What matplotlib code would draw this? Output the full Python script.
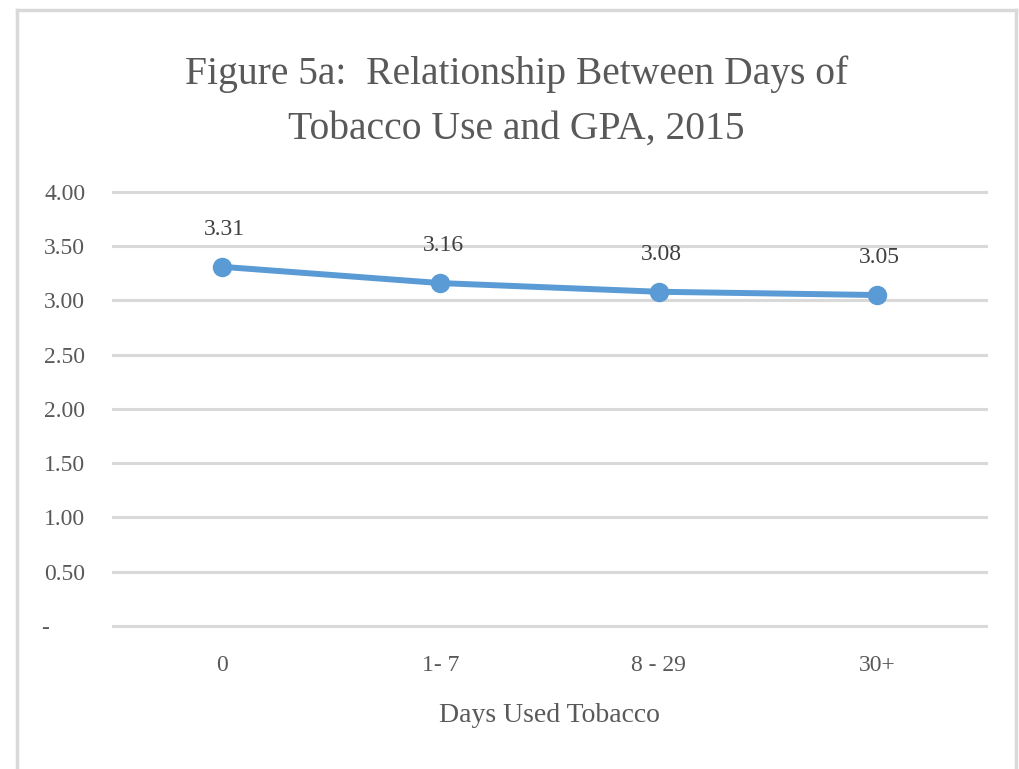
import matplotlib
matplotlib.use('Agg')
import matplotlib.pyplot as plt
from matplotlib.lines import Line2D

categories = ['0', '1- 7', '8 - 29', '30+']
gpa = [3.31, 3.16, 3.08, 3.05]
yticks = [0, 0.5, 1.0, 1.5, 2.0, 2.5, 3.0, 3.5, 4.0]
ytick_labels = ['-      ', '0.50', '1.00', '1.50', '2.00', '2.50', '3.00', '3.50', '4.00']

plt.rcParams['font.family'] = ['Liberation Serif', 'DejaVu Serif']

fig = plt.figure(figsize=(10.19, 7.69), dpi=100)
ax = fig.add_axes([0.1109, 0.186, 0.8567, 0.5644])

x = range(len(categories))
ax.plot(x, gpa, color='#5B9BD5', lw=4.3, marker='o', markersize=13, zorder=3)
for xi, v in zip(x, gpa):
    ax.annotate('%.2f' % v, (xi, v), xytext=(2, 27), textcoords='offset points',
                ha='center', va='center', fontsize=17, color='#404040')

ax.set_xlim(-0.5, len(categories) - 0.5)
ax.set_ylim(0, 4)
ax.set_xticks(list(x))
ax.set_xticklabels(categories, fontsize=17, color='#595959')
ax.set_yticks(yticks)
ax.set_yticklabels(ytick_labels, fontsize=17, color='#595959')
ax.tick_params(length=0, pad=21)
ax.tick_params(axis='y', pad=20)
ax.grid(axis='y', color='#D9D9D9', lw=2.2)
for gl in ax.get_ygridlines():
    gl.set_clip_on(False)
ax.set_axisbelow(True)
for s in ax.spines.values():
    s.set_visible(False)

ax.set_xlabel('Days Used Tobacco', fontsize=20, color='#595959', labelpad=19)

fig.text(0.507, 0.868, 'Figure 5a:  Relationship Between Days of\nTobacco Use and GPA, 2015',
         ha='center', va='center', fontsize=28.5, color='#595959', linespacing=1.66)

# chart frame
for xs, ys in [([0.0167, 0.0167], [0.0, 0.987]), ([0.0167, 0.997], [0.987, 0.987]),
               ([0.997, 0.997], [0.987, 0.0])]:
    fig.add_artist(Line2D(xs, ys, color='#D9D9D9', lw=2.5, transform=fig.transFigure))

fig.savefig('out.png', dpi=100)
